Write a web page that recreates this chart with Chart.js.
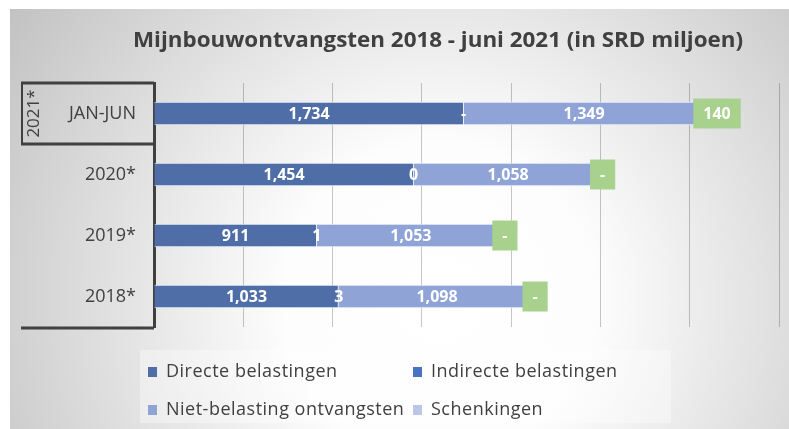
<!DOCTYPE html>
<html>
<head>
<meta charset="utf-8">
<script src="https://cdn.jsdelivr.net/npm/chart.js@4/dist/chart.umd.min.js"></script>
<style>
  html, body { margin: 0; padding: 0; background: #fff; }
  #wrap { width: 789px; height: 429px; position: relative; }
</style>
</head>
<body>
<div id="wrap"><canvas id="mijnbouwChart" width="789" height="429"></canvas></div>
<script>
// ============================================
// MIJNBOUWONTVANGSTEN 2018 - JUNI 2021
// ============================================

const chartTitle = 'Mijnbouwontvangsten 2018 - juni 2021 (in SRD miljoen)';
const categories = ['JAN-JUN', '2020*', '2019*', '2018*'];
const groupLabel = '2021*';

const seriesNames = ['Directe belastingen', 'Indirecte belastingen', 'Niet-belasting ontvangsten', 'Schenkingen'];
const directe = [1734, 1454, 911, 1033];
const indirecte = [0, 0.4, 1, 3];
const nietBelasting = [1349, 1058, 1053, 1098];
const schenkingen = [140, 0, 0, 0];

const xMin = 0;
const xMax = 3500;
const xStep = 500;

const textColor = '#404040';
const barColors = ['#4f6ea8', '#4a72c2', '#8fa3d6', '#b9c4e6'];
const legendColors = ['#4f6ea8', '#4a72c2', '#8fa3d6', '#bcc6e6'];
const labelBoxColor = '#a9d18e';

function fmt(v) {
    if (v === 0) return '-';
    return Math.round(v).toLocaleString('en-US');
}

// background, title, left box, legend
const decorPlugin = {
    id: 'decor',
    beforeDraw(chart) {
        const ctx = chart.ctx;
        ctx.save();
        ctx.fillStyle = '#ffffff';
        ctx.fillRect(0, 0, chart.width, chart.height);
        const g = ctx.createRadialGradient(440, 300, 0, 440, 300, 520);
        g.addColorStop(0, '#ffffff');
        g.addColorStop(0.3, '#fdfdfd');
        g.addColorStop(1, '#c2c2c2');
        ctx.fillStyle = g;
        ctx.fillRect(10, 9, chart.width - 10, chart.height - 9);

        // title
        ctx.fillStyle = textColor;
        ctx.font = 'bold 22px "Open Sans"';
        ctx.textBaseline = 'alphabetic';
        ctx.textAlign = 'left';
        const w = ctx.measureText(chartTitle).width;
        const target = 610;
        ctx.translate(133, 47);
        ctx.scale(target / w, 1);
        ctx.fillText(chartTitle, 0, 0);
        ctx.restore();
    },
    afterDraw(chart) {
        const ctx = chart.ctx;
        const area = chart.chartArea;
        const yScale = chart.scales.y;
        ctx.save();

        // multi-level category box
        ctx.strokeStyle = textColor;
        ctx.lineWidth = 3;
        const top = area.top;
        const bottom = area.bottom + 1;
        const split = (yScale.getPixelForValue(0) + yScale.getPixelForValue(1)) / 2;
        ctx.beginPath();
        ctx.moveTo(21, top); ctx.lineTo(area.left, top);
        ctx.moveTo(21, split); ctx.lineTo(area.left, split);
        ctx.moveTo(21, bottom); ctx.lineTo(area.left, bottom);
        ctx.stroke();
        ctx.lineWidth = 2;
        ctx.beginPath();
        ctx.moveTo(22, top); ctx.lineTo(22, split);
        ctx.stroke();

        ctx.fillStyle = textColor;
        ctx.font = '17px "Open Sans"';
        ctx.textAlign = 'center';
        ctx.textBaseline = 'middle';
        ctx.translate(33, (top + split) / 2);
        ctx.rotate(-Math.PI / 2);
        ctx.fillText(groupLabel, 0, 1);
        ctx.restore();

        // legend
        ctx.save();
        ctx.fillStyle = 'rgba(255,255,255,0.35)';
        ctx.fillRect(140, 350, 531, 73);
        const cols = [148, 413];
        const rows = [372, 410];
        ctx.font = '18px "Open Sans"';
        ctx.letterSpacing = '0.5px';
        ctx.textBaseline = 'middle';
        ctx.textAlign = 'left';
        chart.data.datasets.forEach((ds, i) => {
            const x = cols[i % 2];
            const y = rows[Math.floor(i / 2)];
            ctx.fillStyle = legendColors[i];
            ctx.fillRect(x, y - 5, 9, 10);
            ctx.fillStyle = textColor;
            ctx.fillText(ds.label, x + 18, y);
        });
        ctx.restore();
    }
};

// value labels on the bars
const valueLabels = {
    id: 'valueLabels',
    afterDatasetsDraw(chart) {
        const ctx = chart.ctx;
        ctx.save();
        ctx.font = 'bold 16px "Open Sans"';
        ctx.textAlign = 'center';
        ctx.textBaseline = 'middle';
        chart.data.datasets.forEach((ds, di) => {
            const meta = chart.getDatasetMeta(di);
            meta.data.forEach((bar, i) => {
                const v = ds.data[i];
                const txt = fmt(v);
                const cx = (bar.x + bar.base) / 2;
                const cy = bar.y;
                if (di === 3) {
                    const tw = ctx.measureText(txt).width;
                    const bw = tw + 20;
                    ctx.fillStyle = labelBoxColor;
                    ctx.fillRect(cx - bw / 2, cy - 15, bw, 30);
                }
                ctx.fillStyle = '#ffffff';
                ctx.fillText(txt, cx, cy + 1);
            });
        });
        ctx.restore();
    }
};

const ctx = document.getElementById('mijnbouwChart').getContext('2d');
const seriesData = [directe, indirecte, nietBelasting, schenkingen];

new Chart(ctx, {
    type: 'bar',
    data: {
        labels: categories,
        datasets: seriesNames.map((name, i) => ({
            label: name,
            data: seriesData[i],
            backgroundColor: barColors[i],
            borderColor: 'rgba(235,240,250,0.8)',
            borderWidth: 1,
            barThickness: 23
        }))
    },
    options: {
        indexAxis: 'y',
        responsive: false,
        animation: false,
        layout: { padding: { left: 0, top: 83, right: 10, bottom: 102 } },
        plugins: {
            legend: { display: false },
            title: { display: false },
            tooltip: { enabled: false }
        },
        scales: {
            x: {
                stacked: true,
                min: xMin,
                max: xMax,
                ticks: { display: false, stepSize: xStep },
                grid: { color: 'rgba(0,0,0,0.22)', lineWidth: 1, drawTicks: false },
                border: { display: false },
                afterFit(scale) { scale.height = 0; }
            },
            y: {
                stacked: true,
                ticks: {
                    color: textColor,
                    font: { family: 'Open Sans', size: 18 },
                    padding: 18
                },
                grid: { display: false, drawTicks: false },
                border: { display: true, color: textColor, width: 3 },
                afterFit(scale) { scale.width = 154; }
            }
        }
    },
    plugins: [decorPlugin, valueLabels]
});
</script>
</body>
</html>
